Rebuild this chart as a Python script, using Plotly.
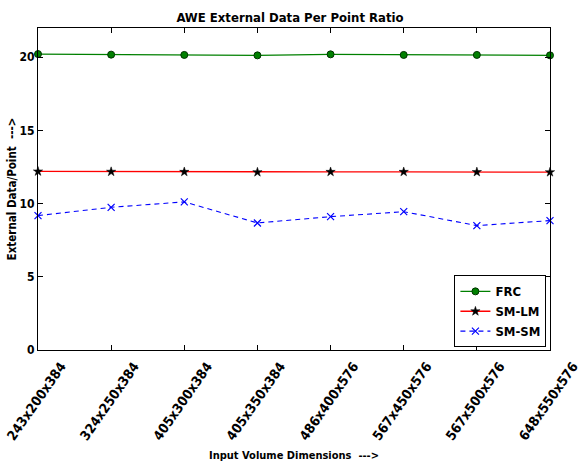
import plotly.graph_objects as go

categories = ["243x200x384", "324x250x384", "405x300x384", "405x350x384",
              "486x400x576", "567x450x576", "567x500x576", "648x550x576"]
frc = [20.22, 20.18, 20.16, 20.13, 20.2, 20.16, 20.16, 20.13]
sm_lm = [12.2, 12.18, 12.17, 12.15, 12.17, 12.17, 12.16, 12.15]
sm_sm = [9.18, 9.75, 10.12, 8.68, 9.11, 9.45, 8.5, 8.84]
y_ticks = [0, 5, 10, 15, 20]

FONT = "DejaVu Sans Condensed"

fig = go.Figure()
fig.add_trace(go.Scatter(
    x=categories, y=frc, name="FRC", mode="lines+markers",
    line=dict(color="green", width=1.3),
    marker=dict(symbol="circle", size=7, color="green",
                line=dict(color="#003300", width=1)),
    cliponaxis=False))
fig.add_trace(go.Scatter(
    x=categories, y=sm_lm, name="SM-LM", mode="lines+markers",
    line=dict(color="red", width=1.3),
    marker=dict(symbol="star", size=7, color="black",
                line=dict(color="black", width=0.5)),
    cliponaxis=False))
fig.add_trace(go.Scatter(
    x=categories, y=sm_sm, name="SM-SM", mode="lines+markers",
    line=dict(color="blue", width=1.1, dash="5px,4px"),
    marker=dict(symbol="x-thin", size=7, color="blue",
                line=dict(color="blue", width=1.2)),
    cliponaxis=False))

fig.update_layout(
    width=580, height=463,
    margin=dict(l=38, r=30, t=28, b=113),
    paper_bgcolor="white", plot_bgcolor="white",
    font=dict(family=FONT, color="black"),
    title=dict(text="<b>AWE External Data Per Point Ratio</b>",
               x=0.5, xanchor="center", y=0.963, yanchor="middle",
               font=dict(size=13, family=FONT)),
    showlegend=True,
    legend=dict(x=0.993, y=0.008, xanchor="right", yanchor="bottom",
                bordercolor="black", borderwidth=1, bgcolor="white",
                font=dict(size=13, family=FONT, weight="bold"),
                itemwidth=30, tracegroupgap=0),
)

fig.update_xaxes(
    type="category", range=[0, 7],
    showline=True, linecolor="black", linewidth=1, mirror="ticks",
    ticks="inside", ticklen=5, tickcolor="black",
    tickangle=-55, ticklabelshift=23, ticklabelstandoff=2,
    showgrid=False, zeroline=False,
    tickfont=dict(size=13.5, family=FONT, weight="bold"),
    automargin=False)
fig.update_yaxes(
    range=[0, 22], tickvals=y_ticks,
    showline=True, linecolor="black", linewidth=1, mirror="ticks",
    ticks="inside", ticklen=5, tickcolor="black",
    showgrid=False, zeroline=False,
    tickfont=dict(size=12, family=FONT, weight="bold"),
    automargin=False)

fig.add_annotation(
    text="<b>External Data/Point  ---></b>",
    xref="paper", yref="paper",
    x=-0.05, y=0.5, xanchor="center", yanchor="middle", textangle=-90,
    showarrow=False, font=dict(size=11.5, family=FONT))
fig.add_annotation(
    text="<b>Input Volume Dimensions  ---></b>", xref="paper", yref="paper",
    x=0.5, y=-0.328, xanchor="center", yanchor="middle",
    showarrow=False, font=dict(size=11, family=FONT))

fig.write_html("out.html")
